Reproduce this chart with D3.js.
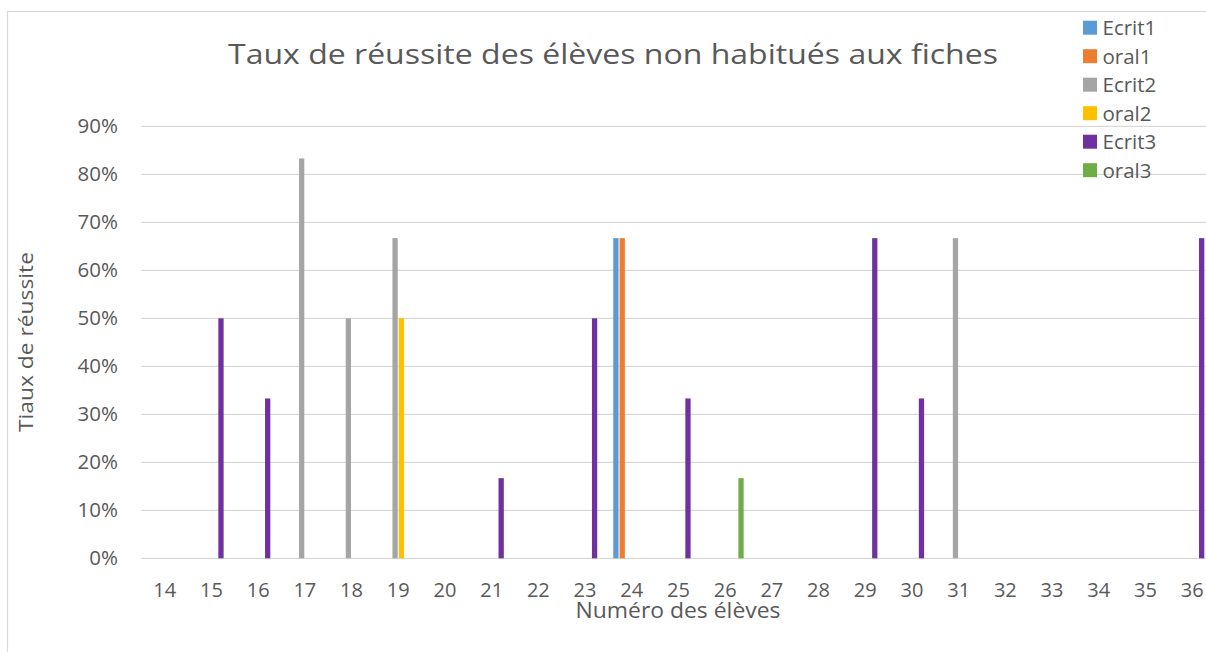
<!DOCTYPE html>
<html>
<head>
<meta charset="utf-8">
<script src="https://cdn.jsdelivr.net/npm/d3@7"></script>
<style>
  body { margin: 0; background: #fff; }
  text { font-family: "Open Sans", sans-serif; fill: #595959; }
</style>
</head>
<body>
<svg id="chart"></svg>
<script>
// data
const categories = ["14","15","16","17","18","19","20","21","22","23","24","25",
                    "26","27","28","29","30","31","32","33","34","35","36"];
const seriesNames = ["Ecrit1", "oral1", "Ecrit2", "oral2", "Ecrit3", "oral3"];
const seriesColors = ["#5b9bd5", "#ed7d31", "#a5a5a5", "#ffc000", "#7030a0", "#70ad47"];
//                14   15    16    17    18   19    20  21    22  23   24    25    26    27 28  29    30    31    32 33 34 35  36
const ecrit1 = [  0,   0,    0,    0,    0,   0,    0,  0,    0,  0,   .667, 0,    0,    0, 0,  0,    0,    0,    0, 0, 0, 0,  0];
const oral1  = [  0,   0,    0,    0,    0,   0,    0,  0,    0,  0,   .667, 0,    0,    0, 0,  0,    0,    0,    0, 0, 0, 0,  0];
const ecrit2 = [  0,   0,    0,    .833, .5,  .667, 0,  0,    0,  0,   0,    0,    0,    0, 0,  0,    0,    .667, 0, 0, 0, 0,  0];
const oral2  = [  0,   0,    0,    0,    0,   .5,   0,  0,    0,  0,   0,    0,    0,    0, 0,  0,    0,    0,    0, 0, 0, 0,  0];
const ecrit3 = [  0,   .5,   .333, 0,    0,   0,    0,  .167, 0,  .5,  0,    .333, 0,    0, 0,  .667, .333, 0,    0, 0, 0, 0,  .667];
const oral3  = [  0,   0,    0,    0,    0,   0,    0,  0,    0,  0,   0,    0,    .167, 0, 0,  0,    0,    0,    0, 0, 0, 0,  0];
const yTicks = [0, .1, .2, .3, .4, .5, .6, .7, .8, .9];

const W = 1206, H = 652;
const seriesValues = [ecrit1, oral1, ecrit2, oral2, ecrit3, oral3];

const svg = d3.select("#chart").attr("width", W).attr("height", H);

// chart border
svg.append("rect")
    .attr("x", 7.5).attr("y", 11.5)
    .attr("width", W + 20).attr("height", H + 20)
    .attr("fill", "none").attr("stroke", "#d9d9d9").attr("stroke-width", 1.2);

const left = 141.4, bandStep = 46.7;
const x = d3.scaleBand()
    .domain(categories)
    .range([left, left + bandStep * categories.length])
    .padding(0);
const x1 = d3.scaleBand()
    .domain(seriesNames)
    .range([-18.5, 18.5])
    .paddingInner(0.17);
const y = d3.scaleLinear().domain([0, 0.9]).range([558.3, 126.3]);

// gridlines
svg.append("g")
    .selectAll("line")
    .data(yTicks)
    .join("line")
    .attr("x1", x.range()[0]).attr("x2", x.range()[1])
    .attr("y1", d => y(d)).attr("y2", d => y(d))
    .attr("stroke", "#d9d9d9").attr("stroke-width", 1.3);

// y axis labels
const yAxis = svg.append("g")
    .attr("transform", "translate(118,0)")
    .call(d3.axisLeft(y).tickValues(yTicks).tickFormat(d3.format(".0%")).tickSize(0).tickPadding(0));
yAxis.select(".domain").remove();
yAxis.selectAll("text")
    .attr("font-family", null)
    .style("font-size", "20.5px")
    .attr("fill", "#595959");

// x axis labels
const xAxis = svg.append("g")
    .attr("transform", "translate(0,582.5)")
    .call(d3.axisBottom(x).tickSize(0).tickPadding(0));
xAxis.select(".domain").remove();
xAxis.selectAll("text")
    .attr("font-family", null)
    .style("font-size", "20px")
    .attr("fill", "#595959");

// bars
const bars = [];
seriesValues.forEach((vals, si) => {
    vals.forEach((v, ci) => {
        if (v > 0) bars.push({ s: seriesNames[si], c: categories[ci], v: v, color: seriesColors[si] });
    });
});
svg.append("g")
    .selectAll("rect")
    .data(bars)
    .join("rect")
    .attr("x", d => x(d.c) + x.bandwidth() / 2 + x1(d.s))
    .attr("width", x1.bandwidth())
    .attr("y", d => y(d.v))
    .attr("height", d => y(0) - y(d.v))
    .attr("fill", d => d.color);

// title
svg.append("text")
    .attr("x", 613).attr("y", 64)
    .attr("text-anchor", "middle")
    .attr("textLength", 770)
    .attr("lengthAdjust", "spacingAndGlyphs")
    .style("font-size", "27px")
    .text("Taux de réussite des élèves non habitués aux fiches");

// axis titles
svg.append("text")
    .attr("x", 678).attr("y", 617.5)
    .attr("text-anchor", "middle")
    .attr("textLength", 205)
    .attr("lengthAdjust", "spacingAndGlyphs")
    .style("font-size", "21px")
    .text("Numéro des élèves");

svg.append("text")
    .attr("transform", "translate(33,342) rotate(-90)")
    .attr("text-anchor", "middle")
    .attr("textLength", 180)
    .attr("lengthAdjust", "spacingAndGlyphs")
    .style("font-size", "20px")
    .text("Tiaux de réussite");

// legend
const legend = svg.append("g")
    .selectAll("g")
    .data(seriesNames)
    .join("g")
    .attr("transform", (d, i) => `translate(1083,${27.7 + i * 28.5})`);
legend.append("rect")
    .attr("x", 0).attr("y", -7)
    .attr("width", 14).attr("height", 14)
    .attr("fill", (d, i) => seriesColors[i]);
legend.append("text")
    .attr("x", 19.5).attr("dy", "0.36em")
    .style("font-size", "20.5px")
    .text(d => d);
</script>
</body>
</html>
